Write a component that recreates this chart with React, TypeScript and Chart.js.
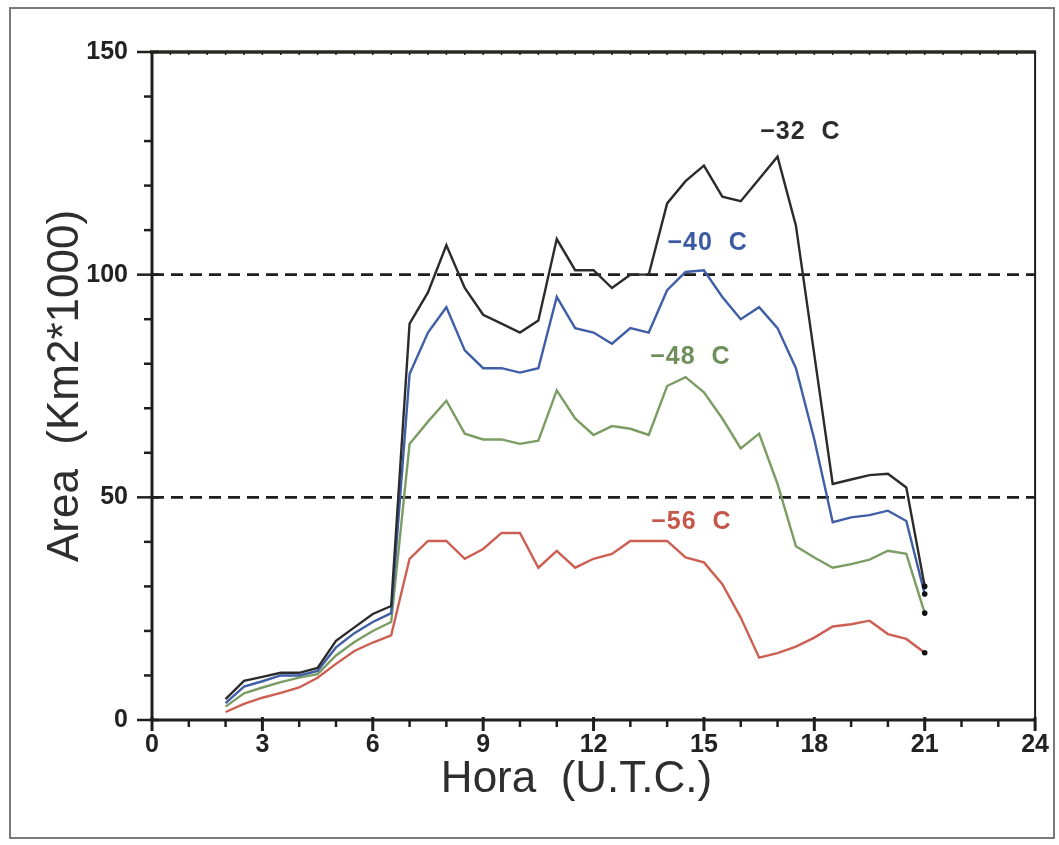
import React, { useEffect, useRef } from "react";
import { Chart, registerables } from "chart.js";

Chart.register(...registerables);

// Hours (U.T.C.)
const hours = [2, 2.5, 3, 3.5, 4, 4.5, 5, 5.5, 6, 6.5, 7, 7.5, 8, 8.5, 9, 9.5, 10, 10.5, 11, 11.5, 12, 12.5, 13, 13.5, 14, 14.5, 15, 15.5, 16, 16.5, 17, 17.5, 18, 18.5, 19, 19.5, 20, 20.5, 21];

// Area (Km2*1000) per threshold
const area32 = [4.7, 8.8, 9.7, 10.6, 10.6, 11.7, 17.8, 20.8, 23.8, 25.6, 89, 96, 106.6, 97, 91, 89, 87, 89.7, 108, 101, 101, 97, 100, 100, 116, 121, 124.5, 117.5, 116.5, 121.5, 126.5, 111, 82, 53, 54, 55, 55.3, 52.2, 30];
const area40 = [3.8, 7.5, 8.7, 10, 10, 11, 16.3, 19.5, 22, 24, 77.7, 87, 92.7, 83, 79, 79, 78, 79, 95, 88, 87, 84.5, 88, 87, 96.5, 100.6, 101, 95, 90, 92.7, 88, 79, 63, 44.4, 45.5, 46, 47, 44.7, 28.3];
const area48 = [3, 6, 7.3, 8.5, 9.5, 10.3, 14.5, 17.5, 20, 22, 62, 67, 71.7, 64.3, 63, 63, 62, 62.7, 74, 67.7, 64, 66, 65.4, 64, 75, 77, 73.6, 67.7, 61, 64.3, 53, 39, 36.5, 34.2, 35, 36, 38, 37.3, 24];
const area56 = [1.8, 3.6, 5, 6.1, 7.3, 9.5, 12.6, 15.5, 17.4, 19, 36.2, 40.2, 40.2, 36.2, 38.4, 42, 42, 34.2, 38, 34.2, 36.2, 37.3, 40.2, 40.2, 40.2, 36.5, 35.4, 30.5, 23, 14, 15, 16.5, 18.5, 21, 21.5, 22.3, 19.3, 18.2, 15.1];

const seriesNames = ["\u221232  C", "\u221240  C", "\u221248  C", "\u221256  C"];
const seriesColors = ["#2b2b2b", "#3f5ea6", "#7b9c62", "#cc5f52"];
const labelColors = ["#2b2b2b", "#3a5aa2", "#6e8f58", "#c4564a"];
const labelX = [17.62, 15.1, 14.63, 14.66];
const labelY = [132, 107, 81.5, 44.5];

// Reference dashed lines
const refLines = [50, 100];

// Axis ranges / ticks
const xMin = 0;
const xMax = 24;
const xMajorStep = 3;
const xMinorStep = 1;
const yMin = 0;
const yMax = 150;
const yMajorStep = 50;
const yMinorStep = 10;

const xTitle = "Hora  (U.T.C.)";
const yTitle = "Area  (Km2*1000)";

const FONT = "'Liberation Sans', Arial, Helvetica, sans-serif";
const INK = "#1e1e1e";

const decorPlugin = {
  id: "decor",
  beforeDatasetsDraw(chart: any) {
    const { ctx, chartArea } = chart;
    const { left, right } = chartArea;
    const y = chart.scales.y;
    ctx.save();
    ctx.strokeStyle = INK;
    ctx.lineWidth = 2.6;
    ctx.setLineDash([12, 7]);
    refLines.forEach((v) => {
      const py = y.getPixelForValue(v);
      ctx.beginPath();
      ctx.moveTo(left, py);
      ctx.lineTo(right, py);
      ctx.stroke();
    });
    ctx.restore();
  },
  afterDraw(chart: any) {
    const { ctx, chartArea } = chart;
    const { left, right, top, bottom } = chartArea;
    const x = chart.scales.x;
    const y = chart.scales.y;
    ctx.save();
    ctx.setLineDash([]);
    ctx.strokeStyle = INK;
    ctx.lineCap = "butt";

    // spines
    ctx.lineWidth = 3;
    ctx.beginPath();
    ctx.moveTo(left, top);
    ctx.lineTo(left, bottom);
    ctx.lineTo(right, bottom);
    ctx.stroke();
    ctx.lineWidth = 2;
    ctx.beginPath();
    ctx.moveTo(right, bottom);
    ctx.lineTo(right, top);
    ctx.stroke();
    ctx.lineWidth = 3.5;
    ctx.strokeStyle = "#2a2a22";
    ctx.beginPath();
    ctx.moveTo(left - 2, top);
    ctx.lineTo(right + 1, top);
    ctx.stroke();
    ctx.strokeStyle = INK;

    // x ticks
    for (let v = xMin; v <= xMax + 1e-9; v += xMinorStep) {
      const px = x.getPixelForValue(v);
      const major = Math.abs(v / xMajorStep - Math.round(v / xMajorStep)) < 1e-9;
      ctx.lineWidth = major ? 3 : 2.5;
      ctx.beginPath();
      ctx.moveTo(px, bottom - (major ? 3 : 0));
      ctx.lineTo(px, bottom + (major ? 11 : 7));
      ctx.stroke();
    }
    // top minor ticks
    ctx.lineWidth = 1.5;
    for (let v = xMin; v <= xMax + 1e-9; v += 0.5) {
      const px = x.getPixelForValue(v);
      ctx.beginPath();
      ctx.moveTo(px, top);
      ctx.lineTo(px, top + 3);
      ctx.stroke();
    }
    // y ticks
    for (let v = yMin; v <= yMax + 1e-9; v += yMinorStep) {
      const py = y.getPixelForValue(v);
      const major = Math.abs(v / yMajorStep - Math.round(v / yMajorStep)) < 1e-9;
      ctx.lineWidth = 2.5;
      ctx.beginPath();
      ctx.moveTo(left - (major ? 15 : 8), py);
      ctx.lineTo(left + (major ? 7 : 0), py);
      ctx.stroke();
    }

    // axis titles
    ctx.fillStyle = "#2e2e2e";
    ctx.font = `44px ${FONT}`;
    ctx.textAlign = "center";
    ctx.textBaseline = "alphabetic";
    ctx.fillText(xTitle, (left + right) / 2 - 17, bottom + 72);
    ctx.save();
    ctx.translate(78, (top + bottom) / 2);
    ctx.rotate(-Math.PI / 2);
    ctx.fillText(yTitle, 0, 0);
    ctx.restore();

    // series labels
    ctx.font = `bold 25px ${FONT}`;
    try {
      (ctx as any).letterSpacing = "1px";
    } catch (e) {}
    ctx.textAlign = "center";
    ctx.textBaseline = "middle";
    seriesNames.forEach((name, i) => {
      ctx.fillStyle = labelColors[i];
      ctx.fillText(name, x.getPixelForValue(labelX[i]), y.getPixelForValue(labelY[i]));
    });
    ctx.restore();
  },
};

export default function App() {
  const canvasRef = useRef<HTMLCanvasElement | null>(null);

  useEffect(() => {
    const canvas = canvasRef.current;
    if (!canvas) return;
    const all = [area32, area40, area48, area56];
    const chart = new Chart(canvas, {
      type: "line",
      data: {
        datasets: all.map((arr, i) => ({
          label: seriesNames[i],
          data: hours.map((h, j) => ({ x: h, y: arr[j] })),
          borderColor: seriesColors[i],
          borderWidth: 2.4,
          tension: 0,
          fill: false,
          pointRadius: (c: any) => (c.dataIndex === hours.length - 1 ? 2.8 : 0),
          pointBackgroundColor: "#111",
          pointBorderWidth: 0,
        })),
      },
      options: {
        animation: false,
        responsive: false,
        maintainAspectRatio: false,
        devicePixelRatio: 1,
        layout: { padding: { left: 0, right: 23, top: 52, bottom: 0 } },
        plugins: {
          legend: { display: false },
          tooltip: { enabled: false },
        },
        scales: {
          x: {
            type: "linear",
            min: xMin,
            max: xMax,
            afterFit: (s: any) => {
              s.height = 125;
            },
            grid: { display: false, drawTicks: false },
            border: { display: false },
            ticks: {
              stepSize: xMajorStep,
              autoSkip: false,
              maxRotation: 0,
              padding: 10,
              color: "#222",
              font: { family: FONT, size: 25, weight: "bold" },
            },
            title: { display: false },
          },
          y: {
            type: "linear",
            min: yMin,
            max: yMax,
            afterFit: (s: any) => {
              s.width = 152;
            },
            grid: { display: false, drawTicks: false },
            border: { display: false },
            ticks: {
              stepSize: yMajorStep,
              autoSkip: false,
              padding: 24,
              color: "#222",
              font: { family: FONT, size: 25, weight: "bold" },
            },
            title: { display: false },
          },
        },
      },
      plugins: [decorPlugin],
    });
    return () => chart.destroy();
  }, []);

  return (
    <div style={{ position: "absolute", left: 0, top: 0, width: 1059, height: 845, background: "#fff" }}>
      <canvas ref={canvasRef} width={1059} height={845} style={{ position: "absolute", left: 0, top: 0, width: 1059, height: 845 }} />
      <div
        style={{
          position: "absolute",
          left: 9,
          top: 7,
          width: 1046,
          height: 832,
          border: "2px solid #7a7a7a",
          boxSizing: "border-box",
          pointerEvents: "none",
        }}
      />
    </div>
  );
}
